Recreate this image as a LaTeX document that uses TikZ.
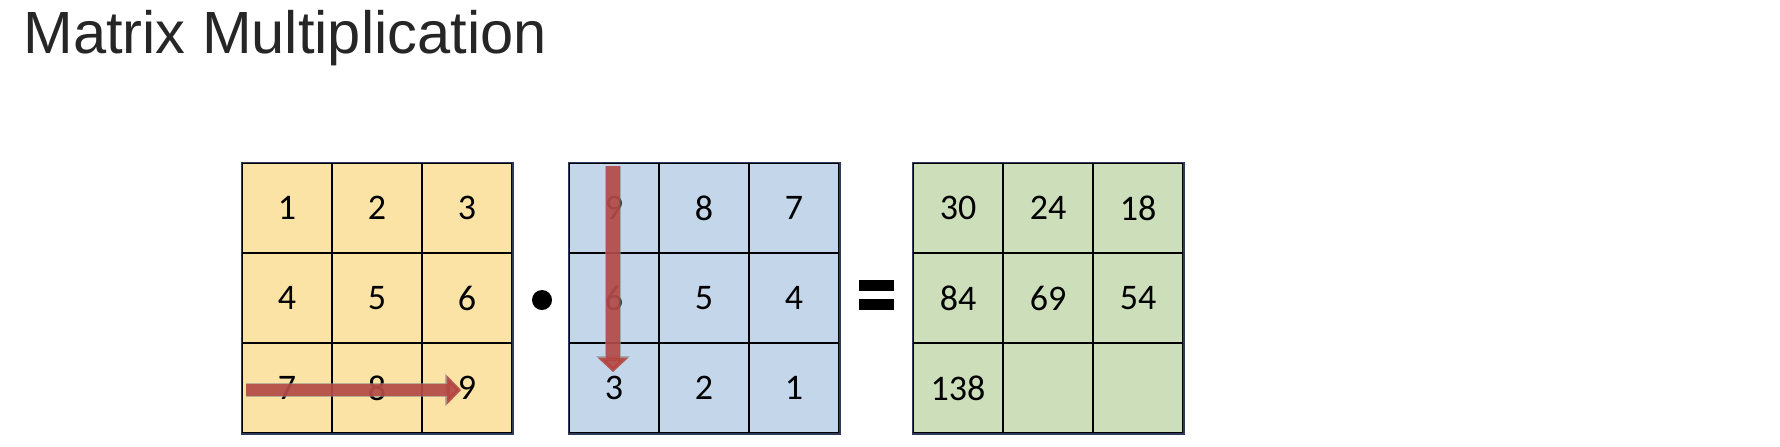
\documentclass[tikz,border=0pt]{standalone}
\usepackage{fontspec}
\setmainfont{Carlito}
\newfontfamily\headfont{Liberation Sans}
\usepackage{tikz}
\usetikzlibrary{arrows.meta}

\definecolor{cellyellow}{HTML}{FAE3A4}
\definecolor{cellblue}{HTML}{C3D6EA}
\definecolor{cellgreen}{HTML}{CCDFBA}
\definecolor{framenavy}{HTML}{2F3B5C}
\definecolor{arrowred}{HTML}{B8433F}
\definecolor{arrowgray}{HTML}{8C8C8C}
\definecolor{titlegray}{HTML}{262626}

\tikzset{cell/.style={rectangle, draw=black, line width=0.75pt, minimum size=45pt, inner sep=0pt, font=\fontsize{18}{22}\selectfont}}

\begin{document}
\begin{tikzpicture}[x=0.5pt,y=-0.5pt]
	\useasboundingbox (0,0) rectangle (1780,446);
	\node[anchor=base west, inner sep=0pt, text=titlegray, font=\headfont\fontsize{29.8}{36}\selectfont] (title) at (23,53) {Matrix Multiplication};

	% left matrix
	\begin{scope}[every node/.style={cell, fill=cellyellow}]
		\node (a1) at (287,208) {1};
		\node (a2) at (377,208) {2};
		\node (a3) at (467,208) {3};
		\node (a4) at (287,298) {4};
		\node (a5) at (377,298) {5};
		\node (a6) at (467,298) {6};
		\node (a7) at (287,388) {7};
		\node (a8) at (377,388) {8};
		\node (a9) at (467,388) {9};
	\end{scope}

	% right matrix
	\begin{scope}[every node/.style={cell, fill=cellblue}]
		\node (b1) at (614,208) {9};
		\node (b2) at (704,208) {8};
		\node (b3) at (794,208) {7};
		\node (b4) at (614,298) {6};
		\node (b5) at (704,298) {5};
		\node (b6) at (794,298) {4};
		\node (b7) at (614,388) {3};
		\node (b8) at (704,388) {2};
		\node (b9) at (794,388) {1};
	\end{scope}

	% result
	\begin{scope}[every node/.style={cell, fill=cellgreen}]
		\node (c1) at (958,208) {30};
		\node (c2) at (1048,208) {24};
		\node (c3) at (1138,208) {18};
		\node (c4) at (958,298) {84};
		\node (c5) at (1048,298) {69};
		\node (c6) at (1138,298) {54};
		\node (c7) at (958,388) {138};
		\node (c8) at (1048,388) {};
		\node (c9) at (1138,388) {};
	\end{scope}

	\draw[framenavy, line width=0.75pt] (a1.north west) rectangle (a9.south east);
	\draw[framenavy, line width=0.75pt] (b1.north west) rectangle (b9.south east);
	\draw[framenavy, line width=0.75pt] (c1.north west) rectangle (c9.south east);

	\begin{scope}[every node/.style={fill=black, inner sep=0pt}]
		\node[circle, minimum size=10pt] (dot) at (542,300) {};
		\node[minimum width=17.5pt, minimum height=5.3pt] (eqtop) at (876.5,285.5) {};
		\node[minimum width=17.5pt, minimum height=5.3pt] (eqbot) at (876.5,304.5) {};
	\end{scope}

	\coordinate (rowstart) at (246,390);
	\coordinate (rowend) at (461,390);
	\coordinate (colstart) at (613,166);
	\coordinate (colend) at (613,372);

	% gray rim, then the red body
	\begin{scope}[every edge/.style={draw=arrowgray, opacity=0.6}]
		\path (rowstart) edge[line width=7.4pt, -{Triangle[width=16pt,length=8pt]}] (rowend);
		\path (colstart) edge[line width=8pt, -{Triangle[width=16.5pt,length=8pt]}] (colend);
	\end{scope}
	\begin{scope}[every edge/.style={draw=arrowred, opacity=0.82}]
		\path (rowstart) edge[line width=6.4pt, -{Triangle[width=14.4pt,length=7.2pt]}] (rowend);
		\path (colstart) edge[line width=7pt, -{Triangle[width=15pt,length=7.2pt]}] (colend);
	\end{scope}
\end{tikzpicture}
\end{document}
